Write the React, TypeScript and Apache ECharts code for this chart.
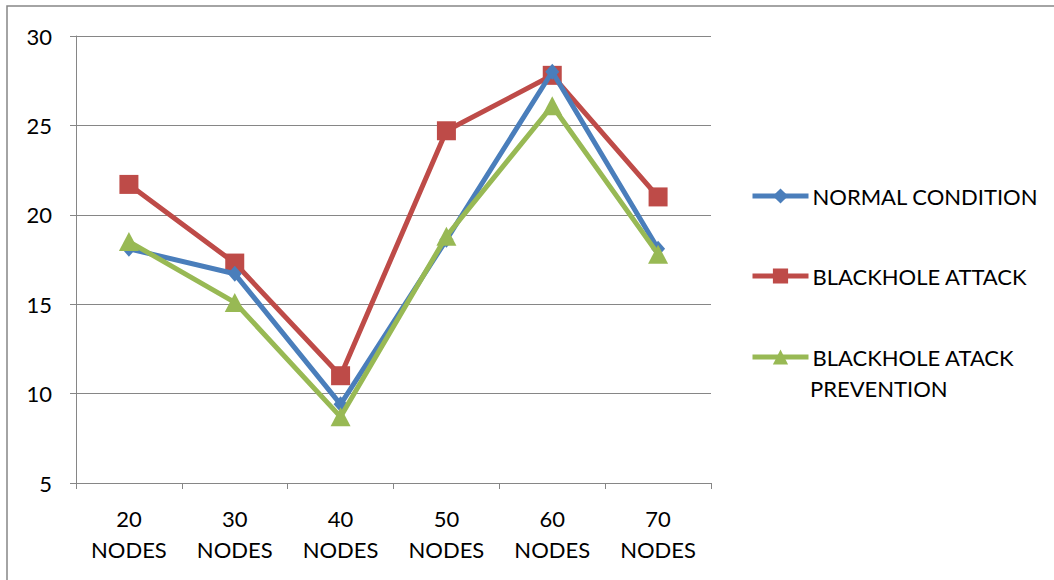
import React, { useEffect, useRef } from "react";
import * as echarts from "echarts";

const categories = ["20\nNODES", "30\nNODES", "40\nNODES", "50\nNODES", "60\nNODES", "70\nNODES"];
const normalCondition = [18.1, 16.7, 9.4, 18.6, 28.0, 18.1];
const blackholeAttack = [21.7, 17.3, 11.0, 24.7, 27.8, 21.0];
const blackholePrevention = [18.5, 15.1, 8.7, 18.8, 26.1, 17.8];
const seriesNames = ["NORMAL CONDITION", "BLACKHOLE ATTACK", "BLACKHOLE ATACK PREVENTION"];

const FONT = "Lato, 'Noto Sans', sans-serif";
const AXIS_COLOR = "#868686";
const FS = 22;

export default function App() {
  const ref = useRef<HTMLDivElement>(null);
  useEffect(() => {
    if (!ref.current) return;
    const chart = echarts.init(ref.current, undefined, { renderer: "svg" });
    const legendBase = {
      orient: "vertical" as const,
      left: 750,
      padding: 0,
      itemWidth: 56,
      itemHeight: 19,
      itemGap: 5,
      lineStyle: { width: 5 },
      textStyle: { fontFamily: FONT, fontSize: FS, color: "#000", padding: [0, 0, 0, -1] },
      selectedMode: false as const,
    };
    chart.setOption({
      animation: false,
      backgroundColor: "#fff",
      textStyle: { fontFamily: FONT },
      grid: { left: 76, top: 36, right: 343, bottom: 97, containLabel: false },
      xAxis: {
        type: "category",
        data: categories,
        boundaryGap: true,
        axisLine: { lineStyle: { color: AXIS_COLOR, width: 1 } },
        axisTick: { show: true, length: 6, lineStyle: { color: AXIS_COLOR } },
        axisLabel: { fontFamily: FONT, fontSize: FS, color: "#000", lineHeight: 31, margin: 20, interval: 0 },
        splitLine: { show: false },
      },
      yAxis: {
        type: "value",
        min: 5,
        max: 30,
        interval: 5,
        axisLine: { show: true, lineStyle: { color: AXIS_COLOR, width: 1 } },
        axisTick: { show: true, length: 6, lineStyle: { color: AXIS_COLOR } },
        axisLabel: { fontFamily: FONT, fontSize: FS, color: "#000", margin: 24 },
        splitLine: { show: true, lineStyle: { color: AXIS_COLOR, width: 1 } },
      },
      legend: [
        { ...legendBase, top: 185, data: [seriesNames[0]] },
        { ...legendBase, top: 265, data: [seriesNames[1]] },
        { ...legendBase, top: 346, data: [seriesNames[2]], formatter: () => "BLACKHOLE ATACK" },
      ],
      graphic: [
        {
          type: "rect",
          shape: { x: 7, y: 6, width: 1200, height: 700 },
          style: { fill: "none", stroke: AXIS_COLOR, lineWidth: 1.5 },
          silent: true,
        },
        {
          type: "text",
          left: 810,
          top: 377,
          style: { text: "PREVENTION", fontFamily: FONT, fontSize: FS, fill: "#000" },
        },
      ],
      series: [
        {
          name: seriesNames[0],
          type: "line",
          data: normalCondition,
          symbol: "diamond",
          symbolSize: [14, 16],
          lineStyle: { color: "#4a7ebb", width: 5 },
          itemStyle: { color: "#4a7ebb" },
          z: 3,
        },
        {
          name: seriesNames[1],
          type: "line",
          data: blackholeAttack,
          symbol: "rect",
          symbolSize: 19,
          lineStyle: { color: "#be4b48", width: 5 },
          itemStyle: { color: "#be4b48" },
          z: 2,
        },
        {
          name: seriesNames[2],
          type: "line",
          data: blackholePrevention,
          symbol: "triangle",
          symbolSize: [20, 19],
          lineStyle: { color: "#98b954", width: 5 },
          itemStyle: { color: "#98b954" },
          z: 4,
        },
      ],
    });
    return () => chart.dispose();
  }, []);
  return (
    <div
      ref={ref}
      style={{ position: "absolute", left: 0, top: 0, width: 1054, height: 580 }}
    />
  );
}
